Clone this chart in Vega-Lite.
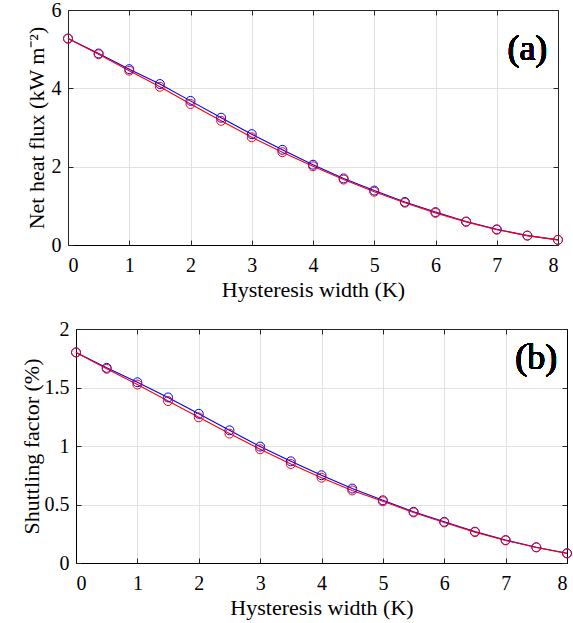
{
  "$schema": "https://vega.github.io/schema/vega-lite/v6.json",
  "background": "white",
  "padding": {"left": 19, "top": 0, "right": 2, "bottom": 2},
  "config": {
    "font": "Liberation Serif",
    "view": {"stroke": null},
    "axis": {
      "domainColor": "#262626",
      "domainWidth": 1,
      "tickColor": "#262626",
      "tickWidth": 1,
      "tickSize": -5,
      "labelFont": "Liberation Serif",
      "labelFontSize": 20,
      "labelColor": "black",
      "titleFont": "Liberation Serif",
      "titleFontSize": 22,
      "titleFontWeight": "normal",
      "titleColor": "black",
      "gridColor": "#e2e2e2",
      "gridWidth": 1
    }
  },
  "datasets": {
    "d": [
      {"w": 0, "s": "B", "flux": 5.27, "sf": 1.8},
      {"w": 0.5, "s": "B", "flux": 4.89, "sf": 1.668},
      {"w": 1, "s": "B", "flux": 4.49, "sf": 1.545},
      {"w": 1.5, "s": "B", "flux": 4.11, "sf": 1.415},
      {"w": 2, "s": "B", "flux": 3.68, "sf": 1.275},
      {"w": 2.5, "s": "B", "flux": 3.25, "sf": 1.134},
      {"w": 3, "s": "B", "flux": 2.83, "sf": 0.995},
      {"w": 3.5, "s": "B", "flux": 2.43, "sf": 0.869},
      {"w": 4, "s": "B", "flux": 2.05, "sf": 0.75},
      {"w": 4.5, "s": "B", "flux": 1.7, "sf": 0.636},
      {"w": 5, "s": "B", "flux": 1.39, "sf": 0.536},
      {"w": 5.5, "s": "B", "flux": 1.1, "sf": 0.438},
      {"w": 6, "s": "B", "flux": 0.84, "sf": 0.352},
      {"w": 6.5, "s": "B", "flux": 0.6, "sf": 0.268},
      {"w": 7, "s": "B", "flux": 0.4, "sf": 0.196},
      {"w": 7.5, "s": "B", "flux": 0.24, "sf": 0.135},
      {"w": 8, "s": "B", "flux": 0.13, "sf": 0.083},
      {"w": 0, "s": "R", "flux": 5.27, "sf": 1.8},
      {"w": 0.5, "s": "R", "flux": 4.87, "sf": 1.66},
      {"w": 1, "s": "R", "flux": 4.45, "sf": 1.525},
      {"w": 1.5, "s": "R", "flux": 4.04, "sf": 1.384},
      {"w": 2, "s": "R", "flux": 3.6, "sf": 1.245},
      {"w": 2.5, "s": "R", "flux": 3.17, "sf": 1.106},
      {"w": 3, "s": "R", "flux": 2.75, "sf": 0.972},
      {"w": 3.5, "s": "R", "flux": 2.37, "sf": 0.846},
      {"w": 4, "s": "R", "flux": 2.01, "sf": 0.729},
      {"w": 4.5, "s": "R", "flux": 1.67, "sf": 0.62},
      {"w": 5, "s": "R", "flux": 1.36, "sf": 0.527},
      {"w": 5.5, "s": "R", "flux": 1.08, "sf": 0.432},
      {"w": 6, "s": "R", "flux": 0.82, "sf": 0.347},
      {"w": 6.5, "s": "R", "flux": 0.59, "sf": 0.264},
      {"w": 7, "s": "R", "flux": 0.39, "sf": 0.193},
      {"w": 7.5, "s": "R", "flux": 0.24, "sf": 0.133},
      {"w": 8, "s": "R", "flux": 0.13, "sf": 0.082}
    ]
  },
  "vconcat": [
    {
      "hconcat": [
        {"width": 6, "height": 1, "data": {"values": [{}]}, "mark": {"type": "text"}, "encoding": {"text": {"value": ""}}},
        {
          "width": 490,
          "height": 235,
          "data": {"name": "d"},
          "layer": [
            {
              "mark": {"type": "line", "strokeWidth": 1.1},
              "encoding": {
                "x": {"field": "w", "type": "quantitative", "scale": {"domain": [0, 8], "nice": false},
                  "axis": {"orient": "bottom", "title": "Hysteresis width (K)", "values": [0,1,2,3,4,5,6,7,8], "labelPadding": 15, "titlePadding": 4, "domainColor": "black"}},
                "y": {"field": "flux", "type": "quantitative", "scale": {"domain": [0, 6], "nice": false},
                  "axis": {"orient": "left", "title": "Net heat flux (kW m⁻²)", "values": [0,2,4,6], "labelPadding": 12, "titlePadding": 3}},
                "color": {"field": "s", "type": "nominal", "scale": {"domain": ["B", "R"], "range": ["#0000ff", "#ff0000"]}, "legend": null}
              }
            },
            {
              "mark": {"type": "point", "filled": false, "size": 80, "strokeWidth": 1, "opacity": 1},
              "encoding": {
                "x": {"field": "w", "type": "quantitative", "axis": null},
                "y": {"field": "flux", "type": "quantitative", "axis": null},
                "color": {"field": "s", "type": "nominal", "legend": null}
              }
            },
            {
              "mark": {"type": "text", "fontSize": 36, "font": "Liberation Serif", "fontWeight": "normal", "color": "black", "align": "center", "baseline": "middle"},
              "encoding": {
                "x": {"datum": 7.5, "type": "quantitative",
                  "axis": {"orient": "top", "title": null, "labels": false, "grid": false, "values": [0,1,2,3,4,5,6,7,8]}},
                "y": {"datum": 5.0, "type": "quantitative",
                  "axis": {"orient": "right", "title": null, "labels": false, "grid": false, "values": [0,2,4,6]}},
                "text": {"value": "(a)"}
              }
            }
          ],
          "resolve": {"axis": {"x": "independent", "y": "independent"}}
        }
      ],
      "spacing": 0
    },
    {
      "hconcat": [
        {"width": 1, "height": 1, "data": {"values": [{}]}, "mark": {"type": "text"}, "encoding": {"text": {"value": ""}}},
        {
          "width": 491,
          "height": 234,
          "data": {"name": "d"},
          "layer": [
            {
              "mark": {"type": "line", "strokeWidth": 1.1},
              "encoding": {
                "x": {"field": "w", "type": "quantitative", "scale": {"domain": [0, 8], "nice": false},
                  "axis": {"orient": "bottom", "title": "Hysteresis width (K)", "values": [0,1,2,3,4,5,6,7,8], "labelPadding": 15, "titlePadding": 4, "domainColor": "black"}},
                "y": {"field": "sf", "type": "quantitative", "scale": {"domain": [0, 2], "nice": false},
                  "axis": {"orient": "left", "title": "Shuttling factor (%)", "values": [0,0.5,1,1.5,2], "format": "~g", "labelPadding": 12, "titlePadding": 1, "domainColor": "black"}},
                "color": {"field": "s", "type": "nominal", "scale": {"domain": ["B", "R"], "range": ["#0000ff", "#ff0000"]}, "legend": null}
              }
            },
            {
              "mark": {"type": "point", "filled": false, "size": 80, "strokeWidth": 1, "opacity": 1},
              "encoding": {
                "x": {"field": "w", "type": "quantitative", "axis": null},
                "y": {"field": "sf", "type": "quantitative", "axis": null},
                "color": {"field": "s", "type": "nominal", "legend": null}
              }
            },
            {
              "mark": {"type": "text", "fontSize": 36, "font": "Liberation Serif", "fontWeight": "normal", "color": "black", "align": "center", "baseline": "middle"},
              "encoding": {
                "x": {"datum": 7.5, "type": "quantitative",
                  "axis": {"orient": "top", "title": null, "labels": false, "grid": false, "values": [0,1,2,3,4,5,6,7,8]}},
                "y": {"datum": 1.75, "type": "quantitative",
                  "axis": {"orient": "right", "title": null, "labels": false, "grid": false, "values": [0,0.5,1,1.5,2], "domainColor": "black"}},
                "text": {"value": "(b)"}
              }
            }
          ],
          "resolve": {"axis": {"x": "independent", "y": "independent"}}
        }
      ],
      "spacing": 0
    }
  ],
  "spacing": 19
}
